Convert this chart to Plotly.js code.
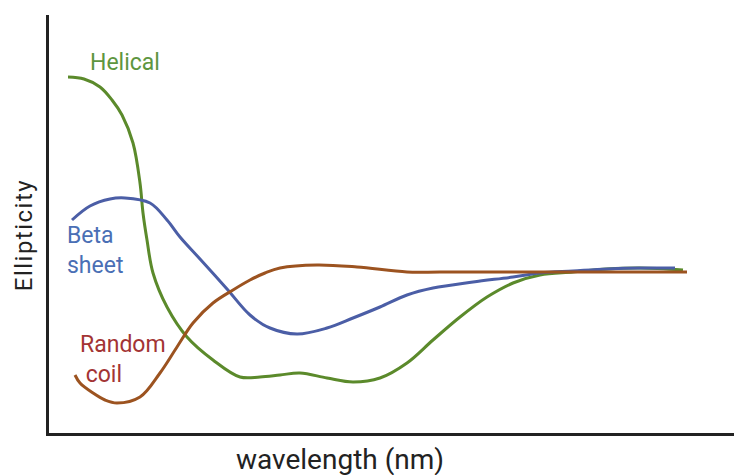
<!DOCTYPE html>
<html>
<head>
<meta charset="utf-8">
<script src="https://cdn.plot.ly/plotly-3.0.1.min.js"></script>
<style>html,body{margin:0;padding:0;background:#fff;}#chart{width:734px;height:475px;}</style>
</head>
<body>
<div id="chart"></div>
<script>
// Arbitrary units (no ticks shown in the reference)
const helicalX = [68, 84, 100, 112, 122, 133, 140, 143, 147, 153, 167, 187, 213, 240, 260, 280, 300, 327, 353, 380, 407, 433, 460, 487, 513, 540, 573, 607, 640, 683];
const helicalY = [356, 354, 346, 333, 318, 290, 250, 220, 193, 160, 126, 96, 73, 56, 56, 58, 60, 55, 51, 55, 70, 93, 116, 136, 150, 158, 161, 164, 165, 163];

const betaX = [72, 90, 110, 125, 150, 167, 180, 200, 227, 250, 270, 297, 327, 353, 380, 407, 433, 473, 513, 540, 573, 607, 640, 675];
const betaY = [213, 227, 234, 235, 230, 213, 196, 174, 144, 118, 105, 99, 105, 115, 126, 138, 145, 151, 156, 160, 162, 164, 165, 165];

const coilX = [75, 80, 93, 105, 117, 140, 160, 177, 193, 213, 233, 250, 265, 280, 317, 357, 407, 440, 500, 600, 687];
const coilY = [58, 50, 40, 33, 30, 36, 60, 86, 110, 130, 143, 153, 160, 165, 168, 166, 161, 161, 161, 161, 161];

const seriesNames = ["Helical", "Beta sheet", "Random coil"];
const labelTexts = ["Helical", "Beta<br>sheet", "Random<br>\u00a0coil"];
const xTitle = "wavelength (nm)";
const yTitle = "Ellipticity";
const lineColors = ["#5b8a2b", "#4b5ea6", "#9c5320"];
const labelColors = ["#5e9640", "#4a6fb5", "#a33434"];

const traces = [
  {x: helicalX, y: helicalY, name: seriesNames[0]},
  {x: betaX, y: betaY, name: seriesNames[1]},
  {x: coilX, y: coilY, name: seriesNames[2]}
].map((t, i) => Object.assign(t, {
  type: "scatter", mode: "lines",
  line: {color: lineColors[i], width: 3, shape: "spline", smoothing: 1},
  hoverinfo: "skip"
}));

const font = "Roboto, 'Liberation Sans', sans-serif";
const layout = {
  width: 734, height: 475,
  margin: {l: 49, r: 0, t: 15, b: 42},
  paper_bgcolor: "#fff", plot_bgcolor: "#fff",
  showlegend: false,
  xaxis: {range: [49, 734], showline: true, linecolor: "#222", linewidth: 3,
          showgrid: false, zeroline: false, showticklabels: false, ticks: "",
          title: {text: ""}},
  yaxis: {range: [0, 418], showline: true, linecolor: "#222", linewidth: 3,
          showgrid: false, zeroline: false, showticklabels: false, ticks: "",
          title: {text: ""}},
  annotations: [
    {xref: "paper", yref: "paper", x: 291/685, y: -(459-433)/418, yanchor: "middle", xanchor: "center",
     text: xTitle, showarrow: false, font: {family: font, size: 28, color: "#222"}},
    {xref: "paper", yref: "paper", x: -25/685, y: (433-235)/418, xanchor: "center", yanchor: "middle",
     text: yTitle, textangle: -90, showarrow: false, font: {family: font, size: 24, color: "#222"}},
    {xref: "x", yref: "y", x: 125, y: 433-62, text: labelTexts[0], showarrow: false,
     font: {family: font, size: 23, color: labelColors[0]}},
    {xref: "x", yref: "y", x: 95, y: 433-250, text: labelTexts[1], showarrow: false, align: "left",
     font: {family: font, size: 23, color: labelColors[1]}},
    {xref: "x", yref: "y", x: 123, y: 433-359, text: labelTexts[2], showarrow: false, align: "left",
     font: {family: font, size: 23, color: labelColors[2]}}
  ]
};

Plotly.newPlot("chart", traces, layout, {staticPlot: true, displayModeBar: false}).then(() => {
  document.querySelectorAll("#chart .annotation-text").forEach(el => {
    if (el.textContent === yTitle) el.style.letterSpacing = "1.5px";
  });
});
</script>
</body>
</html>
